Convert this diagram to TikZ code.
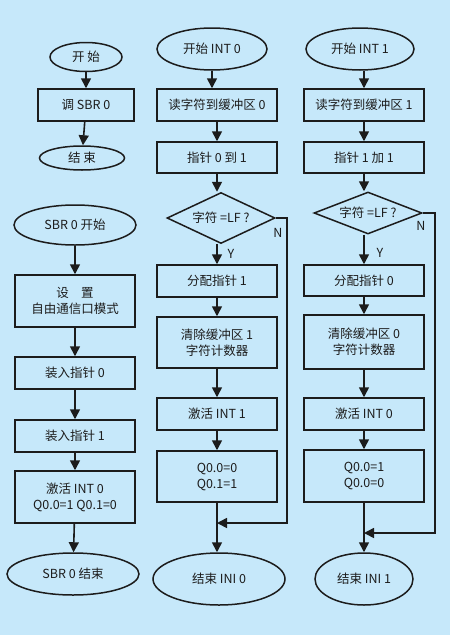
\documentclass[tikz,border=0pt]{standalone}
\usepackage{fontspec}
\setmainfont{Noto Sans CJK SC}
\usetikzlibrary{shapes.geometric,arrows.meta}
\definecolor{bgblue}{RGB}{198,232,250}
\definecolor{ink}{RGB}{28,28,28}

\begin{document}
\begin{tikzpicture}[x=1pt,y=-1pt,
	every node/.style={text=ink,font=\fontsize{12.5}{16}\selectfont},
	box/.style={draw=ink,line width=1.5pt,rectangle,minimum width=120pt,minimum height=32pt,inner sep=0pt,align=center},
	term/.style={draw=ink,line width=1.5pt,ellipse,inner sep=0pt},
	test/.style={draw=ink,line width=1.5pt,diamond,inner sep=0pt,minimum width=108pt,minimum height=51pt},
	arr/.style={draw=ink,line width=1.6pt,-{Triangle[width=10pt,length=10pt]}},
	ln/.style={draw=ink,line width=1.6pt}]
	\fill[bgblue] (0,0) rectangle (450,635);
	\useasboundingbox (0,0) rectangle (450,635);

	% Nodes
	\node[term,minimum width=72pt,minimum height=29pt] (Start) at (86,57) {开\ 始};
	\node[box,minimum width=96pt] (CallSbr) at (86,105) {调 SBR 0};
	\node[term,minimum width=85pt,minimum height=24pt] (End) at (82,158) {结\ 束};

	\node[term,minimum width=122pt,minimum height=40pt] (SbrStart) at (75,225) {SBR 0 开始};
	\node[box,minimum height=52pt] (Setup) at (75,301) {设\quad 置\\自由通信口模式};
	\node[box] (LoadA) at (75,373) {装入指针 0};
	\node[box] (LoadB) at (75,436) {装入指针 1};
	\node[box,minimum height=52pt] (Enable) at (75,497) {激活 INT 0\\Q0.0=1 Q0.1=0};
	\node[term,minimum width=132pt,minimum height=42pt] (SbrEnd) at (73,574) {SBR 0 结束};

	\node[term,minimum width=110pt,minimum height=42pt] (StartA) at (212,49) {开始 INT 0};
	\node[box] (ReadA) at (217,105) {读字符到缓冲区 0};
	\node[box,minimum height=31pt] (PtrA) at (217,157.5) {指针 0 到 1};
	\node[test,label={center:字符 =LF ?}] (TestA) at (221,218) {};
	\node[box] (AllocA) at (217,281) {分配指针 1};
	\node[box,minimum height=51pt] (ClearA) at (217,342.5) {清除缓冲区 1\\字符计数器};
	\node[box] (EnableA) at (217,414) {激活 INT 1};
	\node[box,minimum height=51pt] (OutA) at (217,476.5) {Q0.0=0\\Q0.1=1};
	\node[term,minimum width=132pt,minimum height=52pt] (EndA) at (219,579) {结束 INI 0};

	\node[term,minimum width=108pt,minimum height=42pt] (StartB) at (360,49) {开始 INT 1};
	\node[box] (ReadB) at (364,105) {读字符到缓冲区 1};
	\node[box,minimum height=31pt] (PtrB) at (364,157.5) {指针 1 加 1};
	\node[test,minimum height=42pt,label={center:字符 =LF ?}] (TestB) at (368,213) {};
	\node[box,minimum height=31pt] (AllocB) at (364,280.5) {分配指针 0};
	\node[box,minimum height=54pt] (ClearB) at (364,342) {清除缓冲区 0\\字符计数器};
	\node[box] (EnableB) at (364,414) {激活 INT 0};
	\node[box,minimum height=52pt] (OutB) at (364,476) {Q0.0=1\\Q0.0=0};
	\node[term,minimum width=98pt,minimum height=52pt] (EndB) at (364,579) {结束 INI 1};

	% Labels
	\node (YA) at (231,254) {Y};
	\node (NA) at (278,233) {N};
	\node (YB) at (380,253) {Y};
	\node (NB) at (421,226) {N};

	\coordinate (CornerA) at (287,523);
	\coordinate (MergeA) at (217,523);
	\coordinate (CornerB) at (435,533);
	\coordinate (MergeB) at (364,533);

	% Arrows
	\draw[arr] (Start) -- (CallSbr);
	\draw[arr] (CallSbr) -- (End);
	\draw[arr] (SbrStart) -- (Setup);
	\draw[arr] (Setup) -- (LoadA);
	\draw[arr] (LoadA) -- (LoadB);
	\draw[arr] (LoadB) -- (Enable);
	\draw[arr] (Enable) -- (SbrEnd);

	\draw[arr] (StartA.south) -- (StartA.south |- ReadA.north);
	\draw[arr] (ReadA) -- (PtrA);
	\draw[arr] (PtrA) -- (PtrA |- TestA.north);
	\draw[arr] (TestA.south -| AllocA) -- (AllocA);
	\draw[arr] (AllocA) -- (ClearA);
	\draw[arr] (ClearA) -- (EnableA);
	\draw[arr] (EnableA) -- (OutA);
	\draw[arr] (OutA) -- (EndA.north -| OutA);
	\draw[arr] (TestA.east) -| (CornerA) -- (MergeA);

	\draw[arr] (StartB.south -| ReadB) -- (ReadB);
	\draw[arr] (ReadB) -- (PtrB);
	\draw[arr] (PtrB) -- (PtrB |- TestB.north);
	\draw[arr] (TestB.south -| AllocB) -- (AllocB);
	\draw[arr] (AllocB) -- (ClearB);
	\draw[arr] (ClearB) -- (EnableB);
	\draw[arr] (EnableB) -- (OutB);
	\draw[arr] (OutB) -- (EndB);
	\draw[arr] (TestB.east) -| (CornerB) -- (MergeB);
\end{tikzpicture}
\end{document}
